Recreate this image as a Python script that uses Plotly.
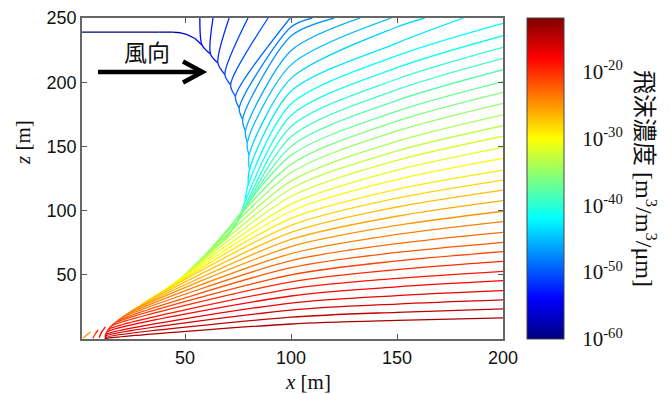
import plotly.graph_objects as go
from plotly.colors import sample_colorscale

# ---------------- data ----------------
levels = list(range(-14, -61, -1))          # log10 of concentration, one contour per decade
source_x, source_z = 12.0, 0.0

# where each contour leaves the envelope (x, z) [m]
start_x = [13.0, 12.6, 12.4, 12.6, 13.2, 14.0, 15.2, 17.0, 18.5, 20.0, 22.3, 24.5, 27.0, 29.3,
           32.0, 35.0, 38.0, 41.2, 44.6, 47.6, 50.8, 55.0, 58.8, 63.3, 68.8, 73.2, 76.4, 78.3,
           79.8, 80.4, 80.2, 79.4, 78.5, 77.2, 75.6, 73.8, 71.5, 68.8, 65.5, 62.0, 58.0, 54.7,
           51.0, 48.0, 44.0, 38.0, 1.4]
start_z = [0.5, 1.2, 2.2, 3.5, 5.5, 7.5, 10, 12.5, 14.5, 16.5, 19, 21.5, 24, 26.5, 29.5, 32.5,
           35.5, 39, 43, 46.7, 51.5, 58, 64, 70.5, 78, 87, 97, 107, 120, 132, 143, 153, 162, 171,
           180, 189, 198, 206, 215, 222, 229, 234, 237, 238.5, 239, 239, 239]

# height of each contour at x = 100 m and x = 150 m (None = does not cross)
z_at_100 = [11.7, 17.0, 22.5, 28.0, 33.5, 39.0, 44.5, 50.0, 55.5, 61.0, 66.5, 72.0, 77.5, 83.0,
            88.5, 94.0, 99.5, 105.0, 111.0, 117.0, 123.0, 129.5, 136.0, 143.0, 150.0, 157.5,
            165.5, 174.0, 183.0, 193.0, 203.0, 213.5, 224.5, 236.0, 243.0] + [None] * 12
z_at_150 = [14.5, 20.8, 27.2, 33.8, 40.6, 47.2, 54.1, 60.8, 67.4, 74.3, 81.4, 88.5, 95.6, 102.8,
            109.7, 116.6, 124.2, 131.6, 139.1, 146.5, 153.9, 162.0, 169.7, 177.4, 185.8, 194.2,
            202.5, 211.3, 220.7, 230.5, 243.0] + [None] * 16

# contours -14 .. -42 end on the right edge (x = 200 m) at these heights
right_edge_z = [16.4, 23.4, 30.4, 37.6, 45.4, 52.7, 60.5, 68.0, 75.3, 83.1, 91.4, 99.5, 107.7,
                116.0, 123.8, 131.6, 140.7, 149.3, 157.9, 166.1, 174.5, 183.6, 192.1, 200.4,
                209.7, 218.6, 227.2, 236.2, 245.9]
# contours -43 .. -54 end on the top edge (z = 250 m) at these x
top_edge_x = [181.4, 163.0, 147.4, 132.6, 120.4, 110.0, 99.6, 89.2, 79.7, 70.8, 63.2, 57.0]

# small contour islands next to the source
frag_levels = [-25, -20, -18]
frag_x = [[2.0, 3.5, 5.5], [6.5, 7.5, 9.0], [9.5, 10.5, 12.5]]
frag_z = [[0.5, 3.0, 5.5], [0.5, 3.5, 7.0], [1.0, 5.0, 9.5]]

cb_vals = [-60, -50, -40, -30, -20]
cb_text = ["10<sup>%d</sup>" % v for v in cb_vals]
cmin, cmax = -60, -12

jet = [[0.0, "rgb(0,0,128)"], [0.125, "rgb(0,0,255)"], [0.375, "rgb(0,255,255)"],
       [0.625, "rgb(255,255,0)"], [0.875, "rgb(255,0,0)"], [1.0, "rgb(128,0,0)"]]


def col(v):
    return sample_colorscale(jet, [(v - cmin) / (cmax - cmin)])[0]


n_right = len(right_edge_z)
n_rest = len(levels) - n_right - len(top_edge_x)
end_x = [200.0] * n_right + top_edge_x + [None] * n_rest
end_z = right_edge_z + [250.0] * len(top_edge_x) + [None] * n_rest

fig = go.Figure()

for i in reversed(range(len(levels))):
    px = [source_x] if i == 0 else [start_x[i - 1]]
    pz = [source_z] if i == 0 else [start_z[i - 1]]
    px.append(start_x[i]); pz.append(start_z[i])
    if z_at_100[i] is not None and start_x[i] < 100:
        px.append(100.0); pz.append(z_at_100[i])
    if z_at_150[i] is not None:
        px.append(150.0); pz.append(z_at_150[i])
    if end_x[i] is not None:
        px.append(end_x[i]); pz.append(end_z[i])
    fig.add_trace(go.Scatter(x=px, y=pz, mode="lines",
                             line=dict(color=col(levels[i]), width=1.3, shape="spline", smoothing=0.8),
                             hoverinfo="skip", showlegend=False))

for lv, fx, fz in zip(frag_levels, frag_x, frag_z):
    fig.add_trace(go.Scatter(x=fx, y=fz, mode="lines",
                             line=dict(color=col(lv), width=1.3, shape="spline"),
                             hoverinfo="skip", showlegend=False))

# page pixels -> figure pixels (the page body adds an 8 px margin)
OFF = 8
L, R, T, B = 82 - OFF, 503 - OFF, 18 - OFF, 339 - OFF
PW, PH = R - L, B - T


def pxx(sx):
    return (sx - OFF - L) / PW


def pxy(sy):
    return (B - (sy - OFF)) / PH


XR = [1.4, 200]
YR = [0, 250]

# colorbar carrier
fig.add_trace(go.Scatter(
    x=[-50, -50], y=[-50, -50], mode="markers", hoverinfo="skip", showlegend=False,
    marker=dict(size=1, color=[cmin, cmax], cmin=cmin, cmax=cmax, colorscale=jet, showscale=True,
                colorbar=dict(x=pxx(527), xanchor="left", y=1, yanchor="top",
                              len=PH, lenmode="pixels", thickness=37, thicknessmode="pixels",
                              xpad=0, ypad=0, outlinecolor="#444", outlinewidth=1,
                              tickvals=cb_vals, ticktext=cb_text, ticks="outside", ticklen=14,
                              tickcolor="rgba(0,0,0,0)",
                              tickfont=dict(family="Liberation Serif", size=21, color="#111")))))

fig.update_layout(
    width=671, height=394,
    margin=dict(l=L, r=671 - R, t=T, b=394 - B, autoexpand=False),
    paper_bgcolor="white", plot_bgcolor="white",
    xaxis=dict(range=XR, tickvals=[50, 100, 150, 200], ticks="inside", ticklen=5,
               tickcolor="#555", showline=True, linecolor="#666", linewidth=1.5, mirror="ticks",
               showgrid=False, zeroline=False, ticklabelstandoff=2,
               tickfont=dict(family="Liberation Sans", size=18, color="#111")),
    yaxis=dict(range=YR, tickvals=[50, 100, 150, 200, 250], ticks="inside", ticklen=5,
               tickcolor="#555", showline=True, linecolor="#666", linewidth=1.5, mirror="ticks",
               showgrid=False, zeroline=False, ticklabelstandoff=0,
               tickfont=dict(family="Liberation Sans", size=18, color="#111")),
)

ann = [
    dict(text="<i>x</i> [m]", x=pxx(308), y=pxy(382), xref="paper", yref="paper",
         xanchor="center", yanchor="middle",
         showarrow=False, font=dict(family="Liberation Serif", size=21, color="#111")),
    dict(text="<i>z</i> [m]", x=pxx(23), y=pxy(143), xref="paper", yref="paper",
         xanchor="center", yanchor="middle",
         showarrow=False, textangle=-90, font=dict(family="Liberation Serif", size=21, color="#111")),
    dict(text="飛沫濃度 [m<sup>3</sup>/m<sup>3</sup>/μm]", x=pxx(646), y=pxy(178),
         xref="paper", yref="paper", xanchor="center", yanchor="middle",
         showarrow=False, textangle=90,
         font=dict(family="Liberation Serif, Noto Sans CJK JP", size=24, color="#111")),
    dict(text="風向", x=pxx(146.5), y=pxy(51), xref="paper", yref="paper",
         xanchor="center", yanchor="middle",
         showarrow=False, font=dict(family="Noto Sans CJK JP", size=23, color="#111")),
]
fig.update_layout(annotations=ann)


# data coordinates of page pixels (for the wind-direction arrow)
def dx(sx):
    return XR[0] + pxx(sx) * (XR[1] - XR[0])


def dz(sy):
    return YR[0] + pxy(sy) * (YR[1] - YR[0])


shapes = [
    dict(type="line", xref="x", yref="y", x0=dx(98), x1=dx(200), y0=dz(72), y1=dz(72),
         line=dict(color="black", width=4.5)),
    dict(type="path", xref="x", yref="y",
         path="M %.2f,%.2f L %.2f,%.2f L %.2f,%.2f" % (dx(183), dz(61.5), dx(202.5), dz(72),
                                                      dx(183), dz(82.5)),
         line=dict(color="black", width=4.5)),
]
# small colorbar ticks
x0 = pxx(527)
x1 = pxx(564)
for v in [-54, -48, -42, -36, -30, -24, -18]:
    yy = (v - cmin) / (cmax - cmin)
    shapes.append(dict(type="line", xref="paper", yref="paper", x0=x0, x1=x0 + 4 / PW, y0=yy, y1=yy,
                       line=dict(color="#222", width=1)))
    shapes.append(dict(type="line", xref="paper", yref="paper", x0=x1 - 4 / PW, x1=x1, y0=yy, y1=yy,
                       line=dict(color="#222", width=1)))
fig.update_layout(shapes=shapes)

fig.write_html("out.html")
